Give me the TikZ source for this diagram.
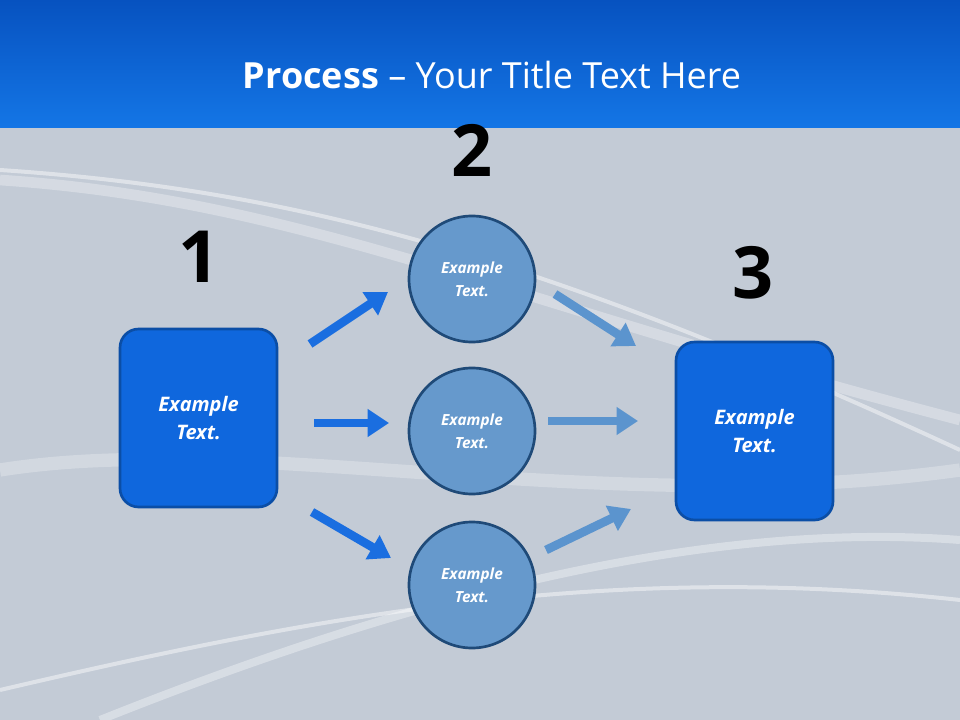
\documentclass[tikz,border=0pt]{standalone}
\usepackage{fontspec}
\setmainfont{Open Sans}
\usetikzlibrary{arrows.meta}
\definecolor{bg}{HTML}{C3CBD6}
\definecolor{topA}{HTML}{0752C0}
\definecolor{topB}{HTML}{1476E6}
\definecolor{boxfill}{HTML}{0F67DD}
\definecolor{boxdraw}{HTML}{0B4EA6}
\definecolor{circfill}{HTML}{6699CC}
\definecolor{circdraw}{HTML}{1F4A78}
\definecolor{arrA}{HTML}{1A6EE0}
\definecolor{arrB}{HTML}{5B94CE}
\tikzset{
 sq/.style={draw=boxdraw,line width=2pt,fill=boxfill,rounded corners=14pt,minimum width=117.75pt,minimum height=133.5pt,text=white,font=\bfseries\itshape\fontsize{15}{21}\selectfont,align=center},
 circ/.style={circle,draw=circdraw,line width=2pt,fill=circfill,minimum size=94.5pt,text=white,font=\bfseries\itshape\fontsize{11.5}{17}\selectfont,align=center},
 num/.style={font=\bfseries\fontsize{54}{60}\selectfont,text=black},
 barA/.style={draw=arrA,line width=6.5pt,-{Triangle[length=16pt,width=20pt]}},
 barB/.style={draw=arrB,line width=6.5pt,-{Triangle[length=16pt,width=20pt]}},
 wave/.style={white,opacity=0.45,line width=3pt}
}
\begin{document}
\begin{tikzpicture}[x=0.75pt,y=-0.75pt]
\useasboundingbox (0,0) rectangle (960,720);
\fill[bg] (0,0) rectangle (960,720);
\draw[wave,line width=8pt,opacity=0.3] (0,180) .. controls (300,200) and (500,300) .. (960,420);
\draw[wave] (0,170) .. controls (300,190) and (550,260) .. (960,450);
\draw[wave,line width=6pt,opacity=0.35] (100,720) .. controls (400,600) and (700,520) .. (960,540);
\draw[wave] (0,690) .. controls (300,620) and (600,560) .. (960,600);
\draw[wave,line width=10pt,opacity=0.25] (0,470) .. controls (250,430) and (600,520) .. (960,470);
\shade[top color=topA,bottom color=topB] (0,0) rectangle (960,128);
\node[text=white,font=\fontsize{27}{30}\selectfont] (title) at (492,75) {\textbf{Process} -- Your Title Text Here};
\node[sq] (b1) at (198.5,418) {Example\\Text.};
\node[sq] (b3) at (754.5,431) {Example\\Text.};
\node[circ] (c1) at (472,279) {Example\\Text.};
\node[circ] (c2) at (472,431) {Example\\Text.};
\node[circ] (c3) at (472,585) {Example\\Text.};
\node[num] (n1) at (199,257) {1};
\node[num] (n2) at (472,150) {2};
\node[num] (n3) at (753,273) {3};
\coordinate (a1s) at (310,344); \coordinate (a1e) at (388,292);
\coordinate (a2s) at (314,423); \coordinate (a2e) at (389,423);
\coordinate (a3s) at (312,512); \coordinate (a3e) at (391,558);
\coordinate (a4s) at (555,294); \coordinate (a4e) at (636,346);
\coordinate (a5s) at (548,421); \coordinate (a5e) at (638,421);
\coordinate (a6s) at (546,550); \coordinate (a6e) at (631,509);
\draw[barA] (a1s) -- (a1e);
\draw[barA] (a2s) -- (a2e);
\draw[barA] (a3s) -- (a3e);
\draw[barB] (a4s) -- (a4e);
\draw[barB] (a5s) -- (a5e);
\draw[barB] (a6s) -- (a6e);
\end{tikzpicture}
\end{document}
